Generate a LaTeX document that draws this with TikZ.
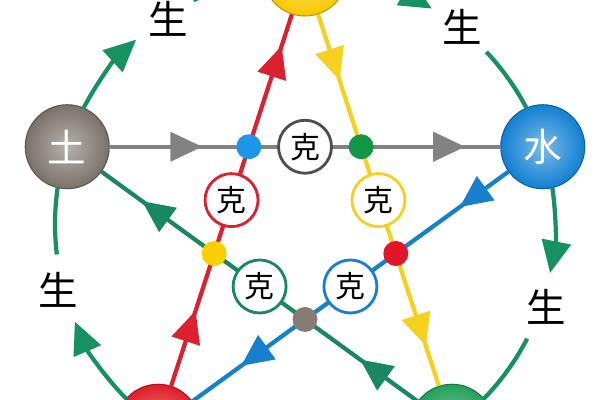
\documentclass[tikz,border=0pt]{standalone}
\usepackage{fontspec}
\newfontfamily\cjk{Noto Sans CJK SC}
\usetikzlibrary{arrows.meta,calc,decorations.markings}
\tikzset{>={Triangle[length=6.4mm,width=5.8mm]}}
\definecolor{shenggreen}{RGB}{22,145,98}
\definecolor{kegray}{RGB}{130,130,130}
\definecolor{kered}{RGB}{220,32,48}
\definecolor{keyellow}{RGB}{246,208,30}
\definecolor{keblue}{RGB}{22,128,205}
\definecolor{kegreen}{RGB}{24,135,98}
\definecolor{tubrown}{RGB}{122,114,106}
\definecolor{shuiblue}{RGB}{18,128,210}
\definecolor{jinyellow}{RGB}{250,200,0}
\definecolor{huored}{RGB}{222,30,42}
\definecolor{mugreen}{RGB}{36,160,90}
\definecolor{dotgray}{RGB}{135,125,118}
\definecolor{dotblue}{RGB}{30,150,232}
\definecolor{dotgreen}{RGB}{20,150,72}
\definecolor{dotyellow}{RGB}{250,208,0}
\definecolor{dotred}{RGB}{225,22,40}
\tikzset{
	element/.style={circle,minimum size=16.8mm,inner sep=0pt,draw=#1!75!black,line width=.6pt,
		inner color=#1!55!white,outer color=#1,text=white,font=\cjk\fontsize{22}{22}\selectfont},
	ke/.style={circle,draw=#1,line width=1.6pt,fill=white,minimum size=10.6mm,inner sep=0pt,
		font=\cjk\fontsize{17}{17}\selectfont},
	dot/.style={circle,fill=#1,minimum size=5mm,inner sep=0pt},
	kexian/.style n args={3}{draw=#1,line width=2.4pt,postaction={decorate},
		decoration={markings,mark=at position #2 with {\arrow[#1]{>}},
			mark=at position -#3 with {\arrow[#1]{>}}}},
	sheng/.style={draw=shenggreen,line width=2.4pt},
	zi/.style={font=\cjk\fontsize{22.5}{22.5}\selectfont}
}
\begin{document}
\begin{tikzpicture}
	\useasboundingbox (0,0) rectangle (12,8);
	\coordinate (O) at (6.1,3.52);
	% elements
	\node[element=jinyellow] (jin) at ($(O)+(90:5)$) {};
	\node[element=tubrown] (tu) at ($(O)+(162:5)$) {土};
	\node[element=shuiblue] (shui) at ($(O)+(18:5)$) {水};
	\node[element=huored] (huo) at ($(O)+(234:5)$) {};
	\node[element=mugreen] (mu) at ($(O)+(306:5)$) {};
	% sheng cycle
	\draw[sheng,->] ($(O)+(152.4:5)$) arc[start angle=152.4,end angle=132.5,radius=5];
	\draw[sheng] ($(O)+(116.5:5)$) arc[start angle=116.5,end angle=99.6,radius=5];
	\draw[sheng,->] ($(O)+(80.4:5)$) arc[start angle=80.4,end angle=59.5,radius=5];
	\draw[sheng] ($(O)+(43.5:5)$) arc[start angle=43.5,end angle=27.6,radius=5];
	\draw[sheng,->] ($(O)+(8.4:5)$) arc[start angle=8.4,end angle=-11.3,radius=5];
	\draw[sheng] ($(O)+(-27.3:5)$) arc[start angle=-27.3,end angle=-44.4,radius=5];
	\draw[sheng,->] ($(O)+(224.4:5)$) arc[start angle=224.4,end angle=203,radius=5];
	\draw[sheng] ($(O)+(187:5)$) arc[start angle=187,end angle=171.6,radius=5];
	\node[zi] (s1) at (3.36,7.62) {生};
	\node[zi] (s2) at ($(O)+(51.5:5.05)$) {生};
	\node[zi] (s3) at ($(O)+(-19:5.1)$) {生};
	\node[zi] (s4) at ($(O)+(195:5.1)$) {生};
	% ke cycle
	\draw[kexian={kegray}{1.85cm}{0.7cm}] (tu) -- (shui);
	\draw[kexian={kered}{1.58cm}{0.66cm}] (huo) -- (jin);
	\draw[kexian={keyellow}{1.38cm}{0.84cm}] (jin) -- (mu);
	\draw[kexian={keblue}{1.2cm}{1.2cm}] (shui) -- (huo);
	\draw[kexian={kegreen}{1.42cm}{1cm}] (mu) -- (tu);
	\node[dot=dotblue] (d1) at ($(O)+(126:1.91)$) {};
	\node[dot=dotgreen] (d2) at ($(O)+(54:1.91)$) {};
	\node[dot=dotred] (d3) at ($(O)+(-18:1.91)$) {};
	\node[dot=dotgray] (d4) at ($(O)+(270:1.91)$) {};
	\node[dot=dotyellow] (d5) at ($(O)+(198:1.91)$) {};
	\node[ke=kegray!60!black] (k1) at ($(O)+(90:1.545)$) {克};
	\node[ke=kered] (k2) at ($(O)+(162:1.545)$) {克};
	\node[ke=keyellow] (k3) at ($(O)+(18:1.545)$) {克};
	\node[ke=kegreen] (k4) at ($(O)+(234:1.545)$) {克};
	\node[ke=keblue] (k5) at ($(O)+(306:1.545)$) {克};
\end{tikzpicture}
\end{document}
